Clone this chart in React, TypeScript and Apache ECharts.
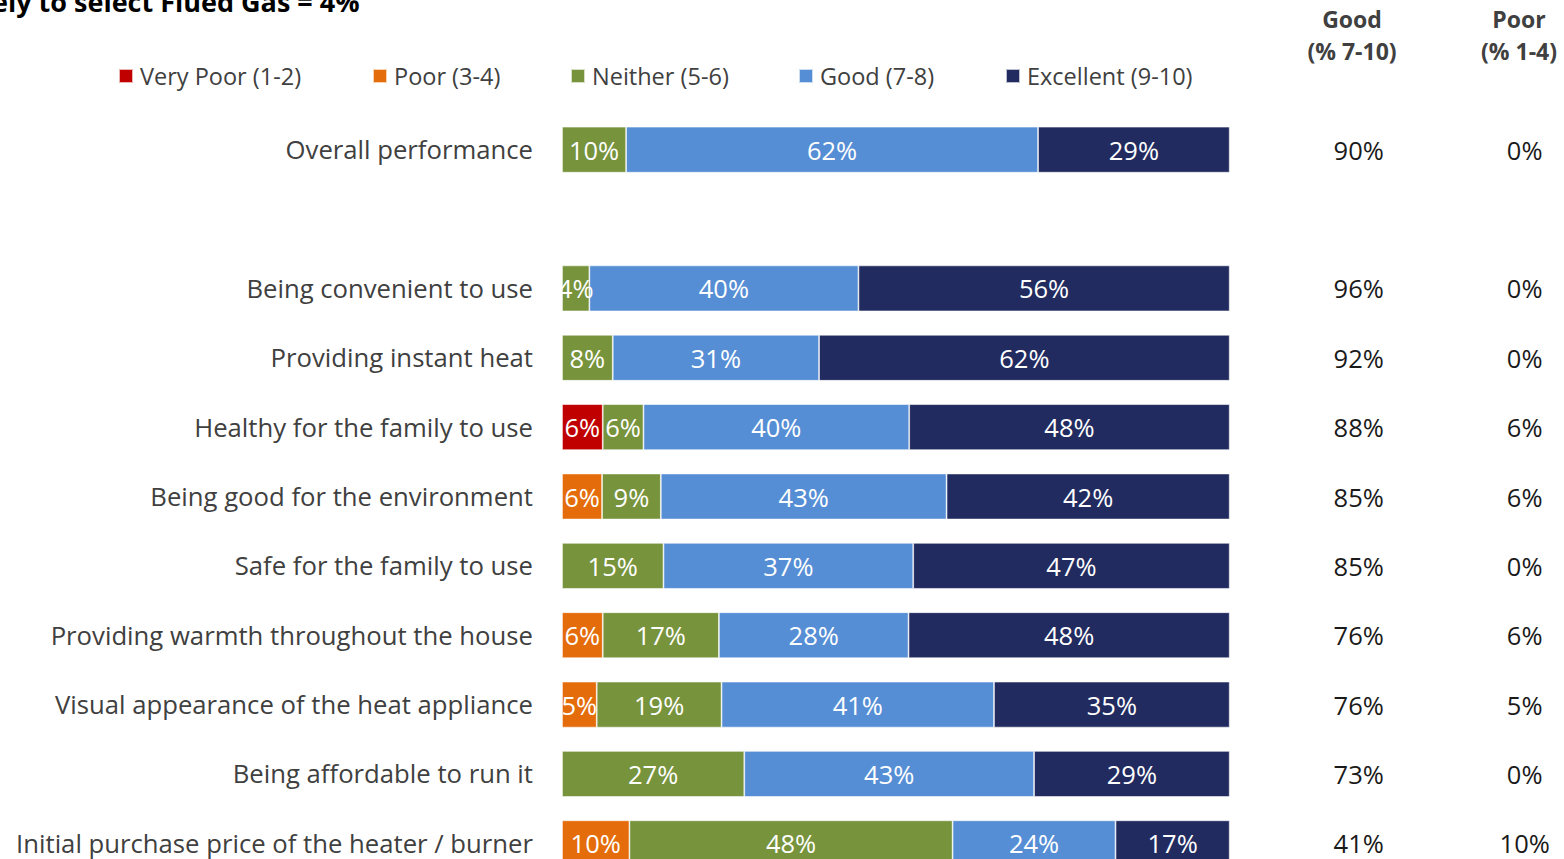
import React, { useEffect, useRef } from "react";
import * as echarts from "echarts";

const categories = [
  "Overall performance",
  "",
  "Being convenient to use",
  "Providing instant heat",
  "Healthy for the family to use",
  "Being good for the environment",
  "Safe for the family to use",
  "Providing warmth throughout the house",
  "Visual appearance of the heat appliance",
  "Being affordable to run it",
  "Initial purchase price of the heater / burner",
];

const veryPoor = [null, null, null, null, 6.1, null, null, null, null, null, null];
const poor = [null, null, null, null, null, 6.0, null, 6.1, 5.2, null, 10.1];
const neither = [9.6, null, 4.1, 7.6, 6.1, 8.8, 15.2, 17.4, 18.7, 27.3, 48.4];
const good = [61.7, null, 40.3, 30.9, 39.8, 42.8, 37.4, 28.4, 40.8, 43.4, 24.4];
const excellent = [28.7, null, 55.6, 61.5, 48.0, 42.4, 47.4, 48.1, 35.3, 29.3, 17.1];

const goodTotals = ["90%", "", "96%", "92%", "88%", "85%", "85%", "76%", "76%", "73%", "41%"];
const poorTotals = ["0%", "", "0%", "0%", "6%", "6%", "0%", "6%", "5%", "0%", "10%"];

const seriesNames = ["Very Poor (1-2)", "Poor (3-4)", "Neither (5-6)", "Good (7-8)", "Excellent (9-10)"];
const seriesColors = ["#C00000", "#E46C0A", "#77933C", "#558ED5", "#222B5F"];
const legendLefts = [118, 372, 570, 798, 1005];

const FONT = "Open Sans";

export default function App() {
  const ref = useRef<HTMLDivElement>(null);
  useEffect(() => {
    if (!ref.current) return;
    const chart = echarts.init(ref.current, undefined, { renderer: "svg" });
    const datasets = [veryPoor, poor, neither, good, excellent];
    const option: any = {
      animation: false,
      backgroundColor: "#ffffff",
      textStyle: { fontFamily: FONT },
      legend: seriesNames.map((n, i) => ({
        data: [n],
        left: legendLefts[i],
        top: 64,
        padding: 0,
        icon: "rect",
        itemWidth: 14,
        itemHeight: 14,
        itemGap: 0,
        selectedMode: false,
        textStyle: { fontFamily: FONT, fontSize: 23.5, color: "#404040", padding: [0, 0, 0, 2] },
      })),
      grid: { left: 562, top: 115, width: 667.7, height: 763, containLabel: false },
      xAxis: {
        type: "value",
        min: 0,
        max: 100,
        show: false,
      },
      yAxis: [
        {
          type: "category",
          data: categories,
          inverse: true,
          axisLine: { show: false },
          axisTick: { show: false },
          axisLabel: { margin: 29, fontSize: 25.7, color: "#404040", fontFamily: FONT },
        },
        {
          type: "category",
          data: categories,
          inverse: true,
          position: "right",
          axisLine: { show: false },
          axisTick: { show: false },
          axisLabel: {
            margin: 129,
            align: "center",
            fontSize: 25.5,
            color: "#1a1a1a",
            fontFamily: FONT,
            formatter: (_v: string, idx: number) => goodTotals[idx],
          },
        },
        {
          type: "category",
          data: categories,
          inverse: true,
          position: "right",
          axisLine: { show: false },
          axisTick: { show: false },
          axisLabel: {
            margin: 295,
            align: "center",
            fontSize: 25.5,
            color: "#1a1a1a",
            fontFamily: FONT,
            formatter: (_v: string, idx: number) => poorTotals[idx],
          },
        },
      ],
      series: seriesNames.map((n, i) => ({
        name: n,
        type: "bar",
        stack: "total",
        barWidth: 46,
        data: datasets[i],
        itemStyle: { color: seriesColors[i], borderColor: "rgba(255,255,255,0.7)", borderWidth: 0.8 },
        label: {
          show: true,
          position: "inside",
          color: "#ffffff",
          fontSize: 25.5,
          fontFamily: FONT,
          formatter: (p: any) => (p.value == null ? "" : Math.round(p.value) + "%"),
        },
      })),
      graphic: [
        {
          type: "text",
          left: -8,
          top: -12,
          style: {
            text: "ely to select Flued Gas = 4%",
            font: "bold 27px 'Open Sans'",
            fill: "#000000",
          },
        },
        {
          type: "text",
          x: 1352,
          y: 3,
          style: {
            text: "Good\n(% 7-10)",
            font: "bold 23px 'Open Sans'",
            fill: "#404040",
            align: "center",
            lineHeight: 32,
          },
        },
        {
          type: "text",
          x: 1519,
          y: 3,
          style: {
            text: "Poor\n(% 1-4)",
            font: "bold 23px 'Open Sans'",
            fill: "#404040",
            align: "center",
            lineHeight: 32,
          },
        },
      ],
    };
    chart.setOption(option);
    return () => chart.dispose();
  }, []);
  return (
    <div
      ref={ref}
      style={{ position: "fixed", left: 0, top: 0, width: 1564, height: 880 }}
    />
  );
}
